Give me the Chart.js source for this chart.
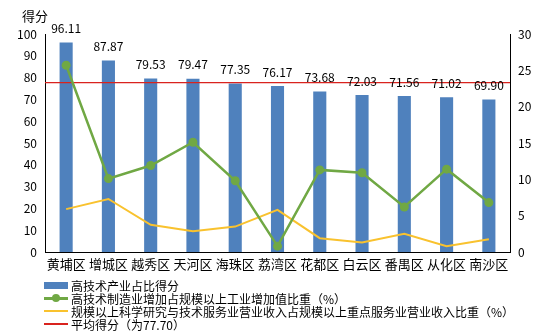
<!DOCTYPE html>
<html>
<head>
<meta charset="utf-8">
<script src="https://cdn.jsdelivr.net/npm/chart.js@4/dist/chart.umd.min.js"></script>
<style>
html,body{margin:0;padding:0;background:#fff;}
#wrap{position:relative;width:554px;height:335px;font-family:"Noto Sans CJK SC","Microsoft YaHei",sans-serif;}
#title{position:absolute;left:22px;top:6px;font-size:13px;color:#000;}
#legend{position:absolute;left:44px;top:279px;font-size:12px;line-height:13px;color:#000;}
.row{display:flex;align-items:center;height:13px;}
.sym{width:24px;height:13px;position:relative;margin-right:3px;}
</style>
</head>
<body>
<div id="wrap">
<canvas id="c" width="554" height="335"></canvas>
<div id="title">得分</div>
<div id="legend"></div>
</div>
<script>
const categories = ["黄埔区","增城区","越秀区","天河区","海珠区","荔湾区","花都区","白云区","番禺区","从化区","南沙区"];
const scoreValues = [96.11, 87.87, 79.53, 79.47, 77.35, 76.17, 73.68, 72.03, 71.56, 71.02, 69.90];
const mfgShare = [25.7, 10.1, 11.9, 15.1, 9.8, 0.8, 11.3, 10.9, 6.2, 11.4, 6.8];
const sciShare = [5.9, 7.3, 3.75, 2.85, 3.5, 5.8, 1.9, 1.3, 2.5, 0.8, 1.75];
const avgScore = 77.70;
const leftTicks = [0,10,20,30,40,50,60,70,80,90,100];
const rightTicks = [0,5,10,15,20,25,30];
const seriesNames = ["高技术产业占比得分","高技术制造业增加占规模以上工业增加值比重（%）","规模以上科学研究与技术服务业营业收入占规模以上重点服务业营业收入比重（%）","平均得分（为77.70）"];

const BLUE = "#4F81BD", GREEN = "#70A844", YELLOW = "#F9C22E", RED = "#D9231E";
const FONT = '"Noto Sans CJK SC","Microsoft YaHei",sans-serif';

const valueLabels = {
  id: 'valueLabels',
  afterDatasetsDraw(chart) {
    const ctx = chart.ctx;
    const meta = chart.getDatasetMeta(2);
    ctx.save();
    ctx.font = '12px ' + FONT;
    ctx.fillStyle = '#000';
    ctx.textAlign = 'center';
    ctx.textBaseline = 'middle';
    meta.data.forEach((bar, i) => {
      ctx.fillText(scoreValues[i].toFixed(2), bar.x, bar.y - 14);
    });
    ctx.restore();
  }
};
const avgLine = {
  id: 'avgLine',
  afterDatasetDraw(chart, args) {
    if (args.index !== 2) return;
    const ctx = chart.ctx;
    const y = chart.scales.y.getPixelForValue(avgScore);
    const a = chart.chartArea;
    ctx.save();
    ctx.strokeStyle = RED;
    ctx.lineWidth = 1.3;
    ctx.beginPath();
    ctx.moveTo(a.left, y);
    ctx.lineTo(a.right, y);
    ctx.stroke();
    ctx.restore();
  }
};

new Chart(document.getElementById('c'), {
  data: {
    labels: categories,
    datasets: [
      { type: 'line', label: seriesNames[1], data: mfgShare, yAxisID: 'y1', borderColor: GREEN, backgroundColor: GREEN, borderWidth: 2.5, pointRadius: 4.5, pointBackgroundColor: GREEN, pointBorderWidth: 0, tension: 0, order: 1 },
      { type: 'line', label: seriesNames[2], data: sciShare, yAxisID: 'y1', borderColor: YELLOW, borderWidth: 2, pointRadius: 0, tension: 0, order: 2 },
      { type: 'bar', label: seriesNames[0], data: scoreValues, yAxisID: 'y', backgroundColor: BLUE, categoryPercentage: 1, barPercentage: 0.31, order: 3 }
    ]
  },
  options: {
    responsive: false,
    animation: false,
    layout: { padding: { left: 0, right: 0, top: 34, bottom: 53 } },
    plugins: { legend: { display: false }, tooltip: { enabled: false } },
    scales: {
      x: {
        grid: { display: false, drawTicks: false },
        border: { color: '#000', width: 1 },
        ticks: { color: '#000', font: { size: 13, family: FONT }, padding: 4, maxRotation: 0, autoSkip: false },
        afterFit(s) { s.height = 30; }
      },
      y: {
        position: 'left', min: 0, max: 100,
        afterBuildTicks(s) { s.ticks = leftTicks.map(v => ({ value: v })); },
        grid: { display: false, drawOnChartArea: false, drawTicks: true, tickLength: 4, color: '#000' },
        border: { color: '#000', width: 1 },
        ticks: { color: '#000', font: { size: 12, family: FONT }, padding: 4 },
        afterFit(s) { s.width = 45; }
      },
      y1: {
        position: 'right', min: 0, max: 30,
        afterBuildTicks(s) { s.ticks = rightTicks.map(v => ({ value: v })); },
        grid: { display: false, drawOnChartArea: false, drawTicks: true, tickLength: 4, color: '#000' },
        border: { color: '#000', width: 1 },
        ticks: { color: '#000', font: { size: 12, family: FONT }, padding: 4 },
        afterFit(s) { s.width = 44; }
      }
    }
  },
  plugins: [avgLine, valueLabels]
});

// HTML legend
const leg = document.getElementById('legend');
const syms = [
  '<div style="position:absolute;left:0;top:3px;width:24px;height:7px;background:'+BLUE+'"></div>',
  '<div style="position:absolute;left:0;top:5px;width:24px;height:2.5px;background:'+GREEN+'"></div><div style="position:absolute;left:8px;top:2px;width:8px;height:8px;border-radius:50%;background:'+GREEN+'"></div>',
  '<div style="position:absolute;left:0;top:5px;width:24px;height:2px;background:'+YELLOW+'"></div>',
  '<div style="position:absolute;left:0;top:5px;width:24px;height:1.5px;background:'+RED+'"></div>'
];
seriesNames.forEach((n, i) => {
  const r = document.createElement('div');
  r.className = 'row';
  r.innerHTML = '<div class="sym">' + syms[i] + '</div><span>' + n + '</span>';
  leg.appendChild(r);
});
</script>
</body>
</html>
